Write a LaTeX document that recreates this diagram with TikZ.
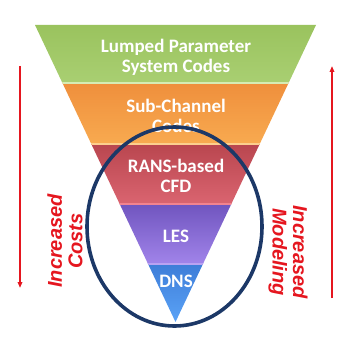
\documentclass[tikz,border=0pt]{standalone}
\usepackage{fontspec}
\setmainfont{Carlito}
\newfontfamily\labelfont{Liberation Sans}
\usetikzlibrary{arrows.meta,calc,shapes.geometric}

\definecolor{navy}{HTML}{1C3867}
\definecolor{alarm}{HTML}{E5161F}
\definecolor{greenTop}{HTML}{9AC35E}
\definecolor{greenBot}{HTML}{A9CF72}
\definecolor{greenSeam}{HTML}{D6ECB5}
\definecolor{orangeTop}{HTML}{EF8F3C}
\definecolor{orangeBot}{HTML}{F8AA50}
\definecolor{orangeSeam}{HTML}{FCCF8E}
\definecolor{redTop}{HTML}{B9464F}
\definecolor{redBot}{HTML}{DA6470}
\definecolor{redSeam}{HTML}{F2838F}
\definecolor{purpleTop}{HTML}{7055BF}
\definecolor{purpleBot}{HTML}{A184EA}
\definecolor{purpleSeam}{HTML}{B9A2F2}
\definecolor{blueTop}{HTML}{3E7DD8}
\definecolor{blueBot}{HTML}{5EA8FB}

\tikzset{
  bandtext/.style={text=white, font=\bfseries\fontsize{19}{20}\selectfont, align=center, inner sep=0pt},
  sidetext/.style={text=alarm, font=\labelfont\bfseries\itshape\fontsize{20}{20.5}\selectfont, align=center, inner sep=0pt},
  trend/.style={draw=alarm, line width=1.5pt, -{Triangle[length=6pt,width=4.5pt]}},
  seam/.style={line width=1.4pt},
}

\begin{document}
\begin{tikzpicture}[x=1pt,y=-1pt]
  \useasboundingbox (0,0) rectangle (339,342);

  % funnel outline
  \coordinate (TL) at (35,25);
  \coordinate (TR) at (316,25);
  \coordinate (AP) at (175.5,322);

  \begin{scope}
    \clip (TL) -- (TR) -- (AP) -- cycle;
    \shade[top color=greenTop, bottom color=greenBot] (0,25) rectangle (339,83);
    \shade[top color=orangeTop, bottom color=orangeBot] (0,83) rectangle (339,144);
    \shade[top color=redTop, bottom color=redBot] (0,144) rectangle (339,204);
    \shade[top color=purpleTop, bottom color=purpleBot] (0,204) rectangle (339,264);
    \shade[top color=blueTop, bottom color=blueBot] (0,264) rectangle (339,330);
    \draw[seam, greenSeam] (0,83) -- (339,83);
    \draw[seam, orangeSeam] (0,144) -- (339,144);
    \draw[seam, redSeam] (0,204) -- (339,204);
    \draw[seam, purpleSeam] (0,264) -- (339,264);
  \end{scope}

  % band labels
  \node[bandtext] (lumped) at (176,57) {Lumped Parameter\\System Codes};
  \node[bandtext] (subch) at (176,116) {Sub-Channel\\Codes};
  \node[bandtext] (rans) at (176,176) {RANS-based\\CFD};
  \node[bandtext] (les) at (176,236) {LES};
  \node[bandtext] (dns) at (176,281) {DNS};

  % highlighted region
  \node[draw=navy, line width=3.6pt, ellipse, minimum width=175pt, minimum height=199pt, inner sep=0pt] (focus) at (174.5,226.5) {};

  % side trends
  \coordinate (costTop) at (20,66);
  \coordinate (costBot) at (20,288);
  \draw[trend] (costTop) -- (costBot);
  \node[sidetext, rotate=90] (costs) at (65,241) {Increased\\Costs};

  \coordinate (modBot) at (332,298);
  \coordinate (modTop) at (332,66);
  \draw[trend] (modBot) -- (modTop);
  \node[sidetext, rotate=-90] (modeling) at (288,252) {Increased\\Modeling};
\end{tikzpicture}
\end{document}
